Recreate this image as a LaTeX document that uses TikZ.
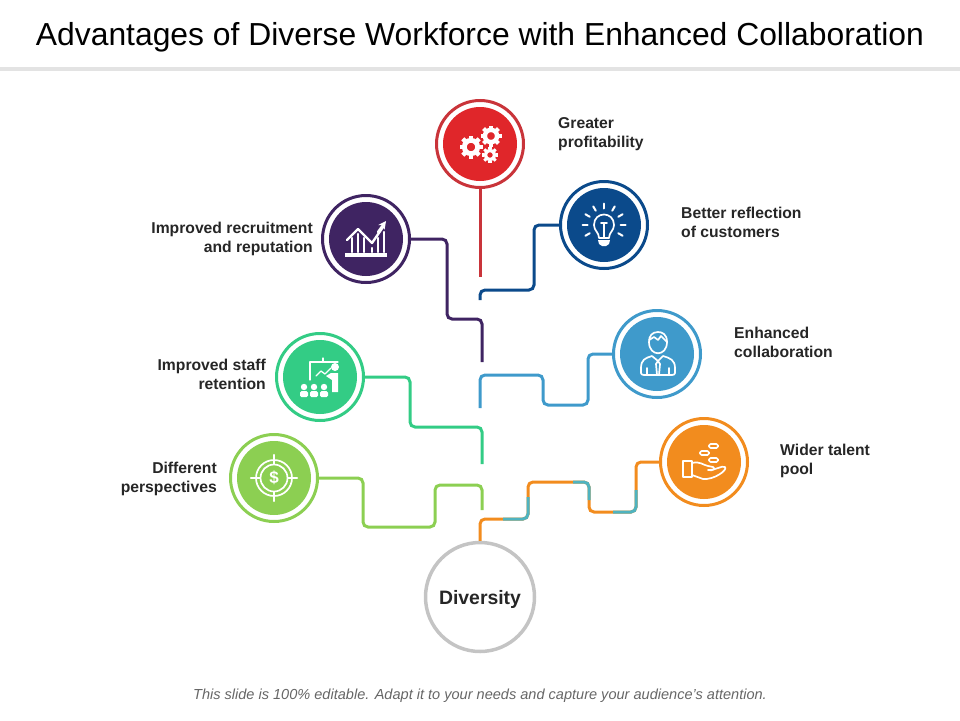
\documentclass[tikz,border=0pt]{standalone}
\usepackage{fontspec}
\setmainfont{Liberation Sans}
\definecolor{cred}{HTML}{E0262A}
\definecolor{credring}{HTML}{C9343A}
\definecolor{cnavy}{HTML}{0B4A8B}
\definecolor{cpurple}{HTML}{3F2462}
\definecolor{cgreen}{HTML}{33CC85}
\definecolor{clime}{HTML}{8CCF52}
\definecolor{cblue}{HTML}{3F9ACB}
\definecolor{corange}{HTML}{F28C1E}
\definecolor{cteal}{HTML}{4FB3BF}
\definecolor{cgray}{HTML}{C4C4C4}
\definecolor{ctext}{HTML}{262626}
\tikzset{
	ring/.style={circle, draw=#1, line width=3pt, fill=white, minimum size=87pt, inner sep=0pt},
	disc/.style={circle, fill=#1, minimum size=74pt, inner sep=0pt},
	link/.style={draw=#1, line width=3pt, rounded corners=5pt},
	label/.style={font=\fontsize{15.7}{19}\selectfont\bfseries, text=ctext, inner sep=0pt},
	icon/.style={draw=white, line width=1.7pt, line cap=round, line join=round},
	gearicon/.pic={
		\draw[white, line width=.42*#1] (0,0) circle (.58*#1);
		\foreach \a in {0,45,...,315}
			\draw[white, line width=.38*#1] (\a:.7*#1) -- (\a:#1);
	}
}
\begin{document}
\begin{tikzpicture}[x=1pt,y=-1pt]
	\useasboundingbox (0,0) rectangle (960,720);

	\node[font=\fontsize{31.85}{36}\selectfont, text=black, inner sep=0pt] (title) at (480,37) {Advantages of Diverse Workforce with Enhanced Collaboration};
	\fill[black!11] (0,67) rectangle (960,71);

	% circles
	\draw (480,144) node[ring=credring] (gears) {};
	\draw (480,144) node[disc=cred] (gearsin) {};
	\draw (604,225) node[ring=cnavy] (bulb) {};
	\draw (604,225) node[disc=cnavy] (bulbin) {};
	\draw (366,239) node[ring=cpurple] (chart) {};
	\draw (366,239) node[disc=cpurple] (chartin) {};
	\draw (320,377) node[ring=cgreen] (teach) {};
	\draw (320,377) node[disc=cgreen] (teachin) {};
	\draw (274,478) node[ring=clime] (target) {};
	\draw (274,478) node[disc=clime] (targetin) {};
	\draw (657,354) node[ring=cblue] (person) {};
	\draw (657,354) node[disc=cblue] (personin) {};
	\draw (704,462) node[ring=corange] (hand) {};
	\draw (704,462) node[disc=corange] (handin) {};
	\draw (480,597) node[circle, draw=cgray, line width=3.5pt, minimum size=109pt, inner sep=0pt, text depth=0pt, font=\fontsize{19.4}{22}\selectfont\bfseries, text=ctext] (hub) {Diversity};

	% free ends of the connectors
	\coordinate (redend) at (480,277);
	\coordinate (navyend) at (480,300);
	\coordinate (purpleend) at (482,362);
	\coordinate (blueend) at (480,408);
	\coordinate (greenend) at (482,464);
	\coordinate (limeend) at (482,510);

	\draw[link=credring] (gears.south) -- (redend);
	\draw[link=cnavy] (bulb.west) -- (534,225) -- (534,290) -- (480,290) -- (navyend);
	\draw[link=cpurple] (chart.east) -- (447,239) -- (447,319) -- (482,319) -- (purpleend);
	\draw[link=cblue] (person.west) -- (588,354) -- (588,405) -- (543,405) -- (543,375) -- (480,375) -- (blueend);
	\draw[link=cgreen] (teach.east) -- (410,377) -- (410,427) -- (482,427) -- (greenend);
	\draw[link=clime] (target.east) -- (363,478) -- (363,527) -- (435,527) -- (435,485) -- (482,485) -- (limeend);
	\draw[link=corange] (hub.north) -- (480,519) -- (528,519) -- (528,482) -- (589,482) -- (589,512) -- (636,512) -- (636,462) -- (hand.west);
	\draw[link=cteal] (503,519) -- (528,519) -- (528,497);
	\draw[link=cteal] (573,482) -- (589,482) -- (589,500);
	\draw[link=cteal] (613,512) -- (636,512) -- (636,490);

	% labels
	\node[label, align=left, anchor=west] (lgears) at (558,134) {Greater\\profitability};
	\node[label, align=left, anchor=west] (lbulb) at (681,222) {Better reflection\\of customers};
	\node[label, align=right, anchor=east] (lchart) at (313,239) {Improved recruitment\\and reputation};
	\node[label, align=left, anchor=west] (lperson) at (734,342) {Enhanced\\collaboration};
	\node[label, align=right, anchor=east] (lteach) at (266,374) {Improved staff\\retention};
	\node[label, align=left, anchor=west] (lhand) at (780,461) {Wider talent\\pool};
	\node[label, align=right, anchor=east] (ltarget) at (217,479) {Different\\perspectives};
	\node[font=\fontsize{14.55}{17}\selectfont\itshape, text=black!60, inner sep=0pt] (foot) at (480,696) {This slide is 100\% editable. Adapt it to your needs and capture your audience's attention.};

	% gears
	\pic at (471,147) {gearicon=11.5};
	\pic at (491,136) {gearicon=10.5};
	\pic at (490,155) {gearicon=8};

	% bulb
	\draw[icon] (599,238) .. controls (599,232) and (594,231) .. (594,225) .. controls (594,211) and (614,211) .. (614,225) .. controls (614,231) and (609,232) .. (609,238) -- cycle;
	\fill[white] (598,240) -- (610,240) -- (609,244) -- (606,246) -- (602,246) -- (599,244) -- cycle;
	\draw[icon] (601,223) -- (607,223) (604,223) -- (604,238);
	\foreach \a in {150,180,...,390}
		\draw[icon, line width=2pt] (604,225) ++(\a:16.5) -- ++(\a:5);

	% chart
	\fill[white] (345,253) rectangle (387,257);
	\draw[icon, line width=2.4pt] (347,240) -- (358,229) -- (372,243) -- (383,227);
	\draw[icon, ->, >=stealth, line width=2.4pt] (378,232) -- (386,221);
	\draw[icon, line width=2.4pt] (352,238) -- (352,252) (358,234) -- (358,252) (364,238) -- (364,252) (372,248) -- (372,252) (378,238) -- (378,252) (384,232) -- (384,252);

	% presenter
	\draw[icon, line width=1.3pt] (310,380) -- (310,362) -- (338,362) (323,362) -- (323,358);
	\draw[icon, line width=1.3pt] (316,376) -- (321,371) -- (325,374) -- (331,368);
	\fill[white] (335,367) circle (4);
	\fill[white] (331,373) -- (338,373) -- (338,392) -- (332,392) -- (332,380) -- (326,376) -- cycle;
	\foreach \x in {304,314,324} {
		\fill[white] (\x,387) circle (3.2);
		\fill[white, rounded corners=1.5pt] (\x-4,391) rectangle (\x+4,397);
	}

	% target
	\draw[icon] (274,478) circle (18);
	\draw[icon] (274,478) circle (13.5);
	\draw[icon, line width=2.2pt] (251,478) -- (260,478) (288,478) -- (297,478) (274,455) -- (274,464) (274,492) -- (274,501);
	\node[font=\fontsize{17}{17}\selectfont\bfseries, text=white, inner sep=0pt] (dollar) at (274,478) {\$};

	% person
	\draw[icon] (649,342) .. controls (649,357) and (667,357) .. (667,342) .. controls (667,334) and (662,332) .. (658,332) .. controls (652,332) and (649,336) .. (649,342);
	\draw[icon] (649,340) -- (654,337) -- (658,340) -- (661,336) -- (667,342);
	\draw[icon] (644,375) -- (672,375) .. controls (676,375) and (675,372) .. (675,368) .. controls (675,360) and (670,358) .. (663,356) -- (658,361) -- (652,356) .. controls (645,358) and (641,360) .. (641,368) .. controls (641,372) and (640,375) .. (644,375);
	\draw[icon] (658,361) -- (656,364) -- (657,375) (658,361) -- (660,364) -- (659,375) (647,368) -- (647,375) (669,368) -- (669,375);

	% hand
	\draw[icon] (683,461) rectangle (692,477);
	\draw[icon] (692,463) .. controls (700,461) and (703,465) .. (708,466) -- (713,467) .. controls (716,469) and (713,471) .. (708,470) .. controls (714,471) and (722,465) .. (725,467) .. controls (728,470) and (714,480) .. (703,479) -- (692,475);
	\draw[icon, rounded corners=1.5pt] (709,444) rectangle (718,448);
	\draw[icon, rounded corners=1.5pt] (700,451) rectangle (709,455);
	\draw[icon, rounded corners=1.5pt] (709,458) rectangle (718,462);
\end{tikzpicture}
\end{document}
